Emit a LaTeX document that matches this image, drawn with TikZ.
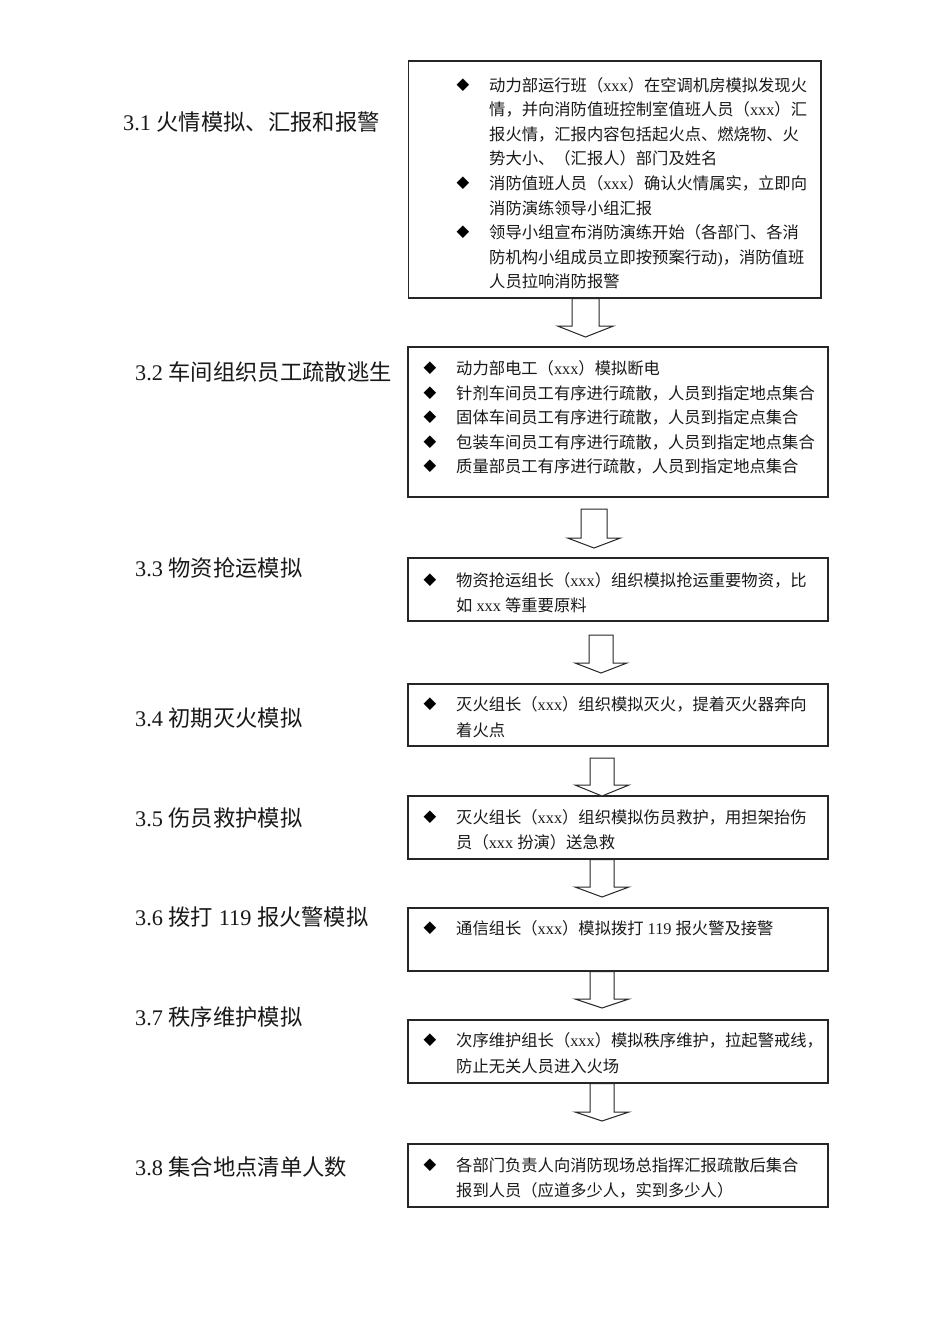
\documentclass[tikz,border=0pt]{standalone}
\usepackage{fontspec}
\setmainfont{Noto Sans CJK SC}
\newfontfamily\latfont{Liberation Serif}
\newfontfamily\symfont{DejaVu Sans}
\newcommand{\latn}[1]{{\latfont #1}}
\begin{document}
\begin{tikzpicture}[x=1pt,y=-1pt,
  box/.style={draw=black!85, line width=1.2pt, inner sep=0, outer sep=0, anchor=north west},
  txt/.style={inner sep=0, anchor=base west, font=\fontsize{16.3}{20}\selectfont, text=black!90},
  lbl/.style={inner sep=0, anchor=base west, font=\fontsize{22.3}{26}\selectfont, text=black!90},
  bul/.style={inner sep=0, font=\symfont\fontsize{16.5}{18}\selectfont},
  blockarrow/.style={draw=black!85, line width=1pt, fill=white, line join=miter}]
\useasboundingbox (0,0) rectangle (950,1344);
\fill[white] (0,0) rectangle (950,1344);
\newcommand{\farrow}[7]{% name, cx, top, base, tip, shaft half, head half
  \draw[blockarrow] (#2-#6,#3) -- (#2-#6,#4) -- (#2-#7,#4) -- (#2,#5) coordinate (#1) -- (#2+#7,#4) -- (#2+#6,#4) -- (#2+#6,#3) -- cycle;}

% boxes
\node[box, minimum width=412.5, minimum height=237] (b1) at (408.5,61) {};
\node[box, minimum width=420, minimum height=150] (b2) at (408,347) {};
\node[box, minimum width=420, minimum height=63] (b3) at (408,558) {};
\node[box, minimum width=420, minimum height=62] (b4) at (408,684) {};
\node[box, minimum width=420, minimum height=63] (b5) at (408,796) {};
\node[box, minimum width=420, minimum height=63] (b6) at (408,908) {};
\node[box, minimum width=420, minimum height=63] (b7) at (408,1020) {};
\node[box, minimum width=420, minimum height=63] (b8) at (408,1144) {};

% labels
\node[lbl] (l1) at (123,130) {\latn{3.1 }火情模拟、汇报和报警};
\node[lbl] (l2) at (135,380) {\latn{3.2 }车间组织员工疏散逃生};
\node[lbl] (l3) at (135,576) {\latn{3.3 }物资抢运模拟};
\node[lbl] (l4) at (135,726) {\latn{3.4 }初期灭火模拟};
\node[lbl] (l5) at (135,826) {\latn{3.5 }伤员救护模拟};
\node[lbl] (l6) at (135,925) {\latn{3.6 }拨打\latn{ 119 }报火警模拟};
\node[lbl] (l7) at (135,1025) {\latn{3.7 }秩序维护模拟};
\node[lbl] (l8) at (135,1175) {\latn{3.8 }集合地点清单人数};

% box 1
\node[bul] (p1a) at (463,85) {◆};
\node[bul] (p1b) at (463,183.4) {◆};
\node[bul] (p1c) at (463,232.6) {◆};
\node[txt] (t11) at (489,91) {动力部运行班（\latn{xxx}）在空调机房模拟发现火};
\node[txt] (t12) at (489,115.6) {情，并向消防值班控制室值班人员（\latn{xxx}）汇};
\node[txt] (t13) at (489,140.2) {报火情，汇报内容包括起火点、燃烧物、火};
\node[txt] (t14) at (489,164.8) {势大小、（汇报人）部门及姓名};
\node[txt] (t15) at (489,189.4) {消防值班人员（\latn{xxx}）确认火情属实，立即向};
\node[txt] (t16) at (489,214) {消防演练领导小组汇报};
\node[txt] (t17) at (489,238.6) {领导小组宣布消防演练开始（各部门、各消};
\node[txt] (t18) at (489,263.2) {防机构小组成员立即按预案行动\latn{)}，消防值班};
\node[txt] (t19) at (489,287.8) {人员拉响消防报警};

% box 2
\node[bul] (p2a) at (430,368) {◆};
\node[bul] (p2b) at (430,393) {◆};
\node[bul] (p2c) at (430,417) {◆};
\node[bul] (p2d) at (430,442) {◆};
\node[bul] (p2e) at (430,466) {◆};
\node[txt] (t21) at (456,374) {动力部电工（\latn{xxx}）模拟断电};
\node[txt] (t22) at (456,399) {针剂车间员工有序进行疏散，人员到指定地点集合};
\node[txt] (t23) at (456,423) {固体车间员工有序进行疏散，人员到指定点集合};
\node[txt] (t24) at (456,448) {包装车间员工有序进行疏散，人员到指定地点集合};
\node[txt] (t25) at (456,472) {质量部员工有序进行疏散，人员到指定地点集合};

% box 3
\node[bul] (p3) at (430,580) {◆};
\node[txt] (t31) at (456,586) {物资抢运组长（\latn{xxx}）组织模拟抢运重要物资，比};
\node[txt] (t32) at (456,611) {如\latn{ xxx }等重要原料};

% box 4
\node[bul] (p4) at (430,704) {◆};
\node[txt] (t41) at (456,710) {灭火组长（\latn{xxx}）组织模拟灭火，提着灭火器奔向};
\node[txt] (t42) at (456,736) {着火点};

% box 5
\node[bul] (p5) at (430,817) {◆};
\node[txt] (t51) at (456,823) {灭火组长（\latn{xxx}）组织模拟伤员救护，用担架抬伤};
\node[txt] (t52) at (456,848) {员（\latn{xxx }扮演）送急救};

% box 6
\node[bul] (p6) at (430,928) {◆};
\node[txt] (t61) at (456,934) {通信组长（\latn{xxx}）模拟拨打\latn{ 119 }报火警及接警};

% box 7
\node[bul] (p7) at (430,1040) {◆};
\node[txt] (t71) at (456,1046) {次序维护组长（\latn{xxx}）模拟秩序维护，拉起警戒线，};
\node[txt] (t72) at (456,1072) {防止无关人员进入火场};

% box 8
\node[bul] (p8) at (430,1165) {◆};
\node[txt] (t81) at (456,1171) {各部门负责人向消防现场总指挥汇报疏散后集合};
\node[txt] (t82) at (456,1196) {报到人员（应道多少人，实到多少人）};

% block arrows
\farrow{a1}{585.5}{298.6}{326}{337}{13.5}{28}
\farrow{a2}{594}{509}{538}{548}{13}{26.5}
\farrow{a3}{601}{635}{663}{673}{12}{26}
\farrow{a4}{602}{758}{785}{796}{12}{27}
\farrow{a5}{602}{859.6}{887}{897}{12}{27}
\farrow{a6}{602}{971.6}{999}{1008}{12}{27}
\farrow{a7}{602}{1083.6}{1112}{1121}{12}{27}
\end{tikzpicture}
\end{document}
